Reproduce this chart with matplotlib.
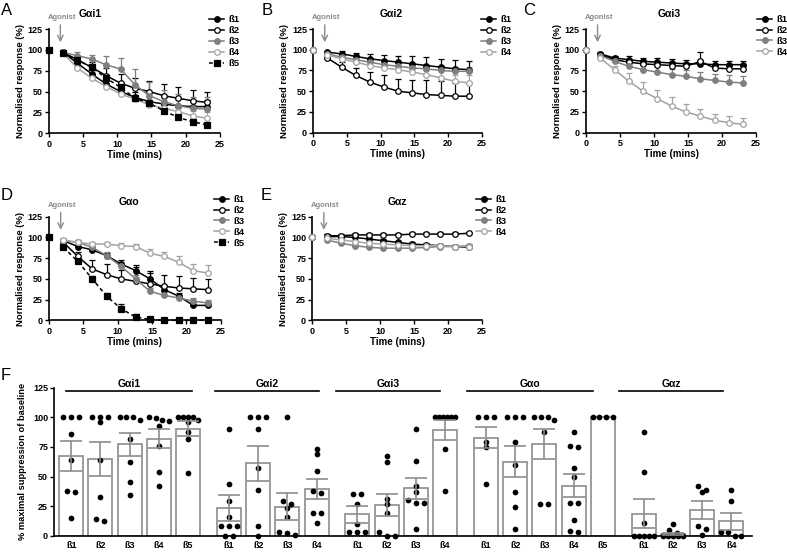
import numpy as np
import matplotlib.pyplot as plt

plt.rcParams['font.family'] = ['Liberation Sans', 'DejaVu Sans']
plt.rcParams['font.weight'] = 'bold'
plt.rcParams['axes.labelweight'] = 'bold'

W, H = 787, 556
GREY = '#7f7f7f'
LIGHT = '#a3a3a3'

# time points (mins)
times = [0, 2.1, 4.2, 6.3, 8.4, 10.5, 12.6, 14.7, 16.8, 18.9, 21.0, 23.1]

# A - Gai1
gai1 = {
    'ß1': [100, 97, 84, 71, 59, 50, 43, 38, 35, 33, 32, 32],
    'ß2': [100, 97, 88, 79, 69, 60, 54, 50, 45, 42, 39, 37],
    'ß3': [100, 97, 93, 89, 82, 77, 58, 45, 38, 33, 30, 29],
    'ß4': [100, 96, 78, 66, 56, 47, 41, 34, 30, 26, 21, 18],
    'ß5': [100, 96, 88, 79, 66, 55, 42, 36, 27, 19, 14, 10],
}
gai1_err = {
    'ß1': [0, 2, 4, 5, 6, 7, 7, 7, 8, 8, 8, 8],
    'ß2': [0, 2, 5, 7, 9, 11, 12, 13, 14, 13, 13, 12],
    'ß3': [0, 2, 4, 5, 11, 13, 19, 16, 14, 14, 14, 14],
    'ß4': [0, 2, 3, 3, 3, 3, 3, 3, 4, 5, 6, 8],
    'ß5': [0, 2, 3, 4, 4, 4, 3, 3, 3, 3, 3, 2],
}

# B - Gai2
gai2 = {
    'ß1': [100, 97, 95, 92, 89, 87, 85, 83, 81, 79, 77, 76],
    'ß2': [100, 90, 79, 69, 61, 55, 50, 48, 46, 45, 44, 44],
    'ß3': [100, 95, 91, 88, 85, 82, 80, 78, 77, 75, 74, 74],
    'ß4': [100, 94, 89, 85, 81, 78, 76, 73, 70, 66, 62, 60],
}
gai2_err = {
    'ß1': [0, 2, 3, 4, 6, 7, 8, 9, 10, 10, 11, 11],
    'ß2': [0, 2, 6, 9, 12, 14, 15, 16, 17, 17, 16, 16],
    'ß3': [0, 2, 3, 3, 4, 4, 4, 5, 5, 5, 5, 5],
    'ß4': [0, 2, 3, 3, 4, 5, 5, 6, 7, 8, 8, 9],
}

# C - Gai3
gai3 = {
    'ß1': [100, 95, 90, 88, 86, 85, 84, 83, 83, 82, 82, 82],
    'ß2': [100, 94, 88, 85, 83, 82, 81, 80, 86, 78, 77, 77],
    'ß3': [100, 93, 86, 80, 76, 73, 70, 68, 65, 63, 61, 60],
    'ß4': [100, 90, 76, 62, 50, 41, 32, 25, 20, 15, 12, 10],
}
gai3_err = {
    'ß1': [0, 2, 3, 4, 4, 5, 5, 5, 5, 5, 5, 5],
    'ß2': [0, 2, 3, 3, 3, 3, 3, 3, 11, 4, 4, 4],
    'ß3': [0, 2, 3, 5, 6, 7, 7, 7, 8, 8, 8, 8],
    'ß4': [0, 2, 4, 10, 11, 11, 11, 9, 8, 8, 8, 8],
}

# D - Gao
gao = {
    'ß1': [100, 96, 89, 85, 78, 68, 60, 50, 37, 29, 18, 18],
    'ß2': [100, 94, 77, 62, 55, 50, 47, 44, 41, 39, 38, 37],
    'ß3': [100, 96, 94, 88, 78, 65, 50, 35, 30, 27, 23, 21],
    'ß4': [100, 97, 94, 92, 92, 90, 89, 81, 77, 70, 60, 57],
    'ß5': [100, 88, 71, 50, 29, 14, 4, 1, 0, 0, 0, 0],
}
gao_err = {
    'ß1': [0, 2, 4, 3, 3, 5, 7, 7, 6, 4, 4, 4],
    'ß2': [0, 2, 5, 11, 13, 11, 17, 15, 14, 14, 13, 13],
    'ß3': [0, 2, 3, 4, 4, 5, 5, 4, 4, 4, 4, 4],
    'ß4': [0, 2, 3, 3, 3, 3, 3, 5, 5, 7, 8, 10],
    'ß5': [0, 2, 3, 3, 4, 6, 3, 1, 1, 1, 1, 1],
}

# E - Gaz
gaz = {
    'ß1': [100, 101, 101, 100, 98, 96, 94, 92, 91, 90, 89, 88],
    'ß2': [100, 102, 102, 103, 103, 103, 103, 104, 104, 104, 104, 105],
    'ß3': [100, 97, 93, 90, 88, 87, 87, 87, 88, 89, 89, 90],
    'ß4': [100, 99, 97, 95, 93, 92, 91, 90, 90, 90, 89, 89],
}
gaz_err = {
    'ß1': [0, 3, 2, 2, 2, 2, 2, 2, 2, 2, 2, 2],
    'ß2': [0, 2, 2, 2, 2, 2, 2, 2, 2, 2, 2, 2],
    'ß3': [0, 2, 2, 2, 2, 2, 2, 2, 2, 2, 2, 2],
    'ß4': [0, 2, 2, 2, 2, 2, 2, 2, 2, 2, 2, 2],
}

# F - maximal suppression
groups = ['Gαi1', 'Gαi2', 'Gαi3', 'Gαo', 'Gαz']
group_bars = [['ß1', 'ß2', 'ß3', 'ß4', 'ß5'], ['ß1', 'ß2', 'ß3', 'ß4'], ['ß1', 'ß2', 'ß3', 'ß4'],
              ['ß1', 'ß2', 'ß3', 'ß4', 'ß5'], ['ß1', 'ß2', 'ß3', 'ß4']]
bar_means = [67.3, 64.8, 77.2, 82.0, 90.4,
             23.6, 61.1, 24.5, 39.4,
             18.0, 25.9, 40.0, 89.3,
             82.8, 62.5, 77.2, 42.2, 100.0,
             18.6, 1.5, 21.7, 12.2]
bar_sems = [12.3, 14.1, 9.5, 8.0, 6.2,
            10.8, 14.8, 11.5, 8.7,
            7.2, 9.6, 8.8, 8.2,
            9.1, 13.1, 12.8, 9.8, 0.0,
            12.2, 1.0, 7.9, 7.0]
bar_dots = [
    [100, 100, 100, 86, 64, 38, 37, 15],
    [100, 100, 96, 100, 64, 33, 12, 14],
    [100, 98, 100, 100, 82, 62, 45, 34],
    [99, 97, 100, 98, 93, 76, 54, 42],
    [100, 100, 100, 100, 98, 96, 88, 82, 53],
    [90, 44, 29, 16, 8, 8, 8, 0, 0],
    [100, 100, 100, 90, 57, 39, 8, 0],
    [100, 29, 27, 23, 16, 3, 1, 2],
    [73, 69, 55, 38, 36, 19, 19, 11],
    [35, 35, 27, 10, 3, 3, 3],
    [67, 62, 31, 27, 19, 3, 0, 0],
    [90, 63, 42, 37, 30, 28, 28, 6],
    [100, 100, 100, 100, 100, 100, 73, 38],
    [100, 100, 100, 79, 75, 44],
    [100, 100, 100, 79, 60, 37, 24, 6],
    [100, 98, 100, 100, 88, 27, 27],
    [88, 76, 75, 57, 50, 28, 28, 13, 3, 4],
    [100, 100, 100, 100],
    [88, 54, 11, 0, 0, 0, 0, 0],
    [10, 5, 2, 0, 0, 0, 0, 0],
    [42, 37, 39, 8, 6, 1],
    [39, 29, 3, 0, 0, 3],
]

STYLE = {
    'ß1': dict(color='black', marker='o', mfc='black', ls='-'),
    'ß2': dict(color='black', marker='o', mfc='white', ls='-'),
    'ß3': dict(color=GREY, marker='o', mfc=GREY, ls='-'),
    'ß4': dict(color=LIGHT, marker='o', mfc='white', ls='-'),
    'ß5': dict(color='black', marker='s', mfc='black', ls=(0, (2.5, 2))),
}


def px_axes(fig, left, top, right, bottom):
    return fig.add_axes([left / W, 1 - bottom / H, (right - left) / W, (bottom - top) / H])


def style_axes(ax):
    for s in ['top', 'right']:
        ax.spines[s].set_visible(False)
    for s in ['left', 'bottom']:
        ax.spines[s].set_linewidth(1.2)
    ax.tick_params(direction='out', length=3, width=1, labelsize=6.5, pad=1.5)
    for lab in ax.get_xticklabels() + ax.get_yticklabels():
        lab.set_fontweight('bold')


def time_panel(ax, means, errs, title, title_x, legend_xy):
    t = np.array(times)
    handles = []
    for lab, vals in means.items():
        st = STYLE[lab]
        v = np.array(vals, dtype=float)
        e = np.array(errs[lab], dtype=float)
        ax.errorbar(t[1:], v[1:], yerr=[np.zeros(len(e) - 1), e[1:]], fmt='none',
                    ecolor=st['color'], elinewidth=0.9, capsize=2.5, capthick=0.9,
                    zorder=2, clip_on=False)
        line, = ax.plot(t[1:], v[1:], color=st['color'], ls=st['ls'], lw=1.1,
                        marker=st['marker'], ms=4, mfc=st['mfc'], mec=st['color'],
                        mew=0.9, zorder=3, clip_on=False, label=lab)
        ax.plot(t[:1], v[:1], ls='none', marker=st['marker'], ms=4, mfc=st['mfc'],
                mec=st['color'], mew=0.9, zorder=3, clip_on=False)
        handles.append(line)
    ax.set_xlim(0, 25)
    ax.set_ylim(0, 125)
    ax.set_xticks(range(0, 26, 5))
    ax.set_yticks(range(0, 126, 25))
    ax.set_xlabel('Time (mins)', fontsize=7, labelpad=1)
    ax.set_ylabel('Normalised response (%)', fontsize=6.8, labelpad=2)
    style_axes(ax)
    ax.text(title_x, 143, title, fontsize=7.5, fontweight='bold', ha='center', va='center')
    ax.annotate('', xy=(1.7, 109), xytext=(1.7, 130),
                arrowprops=dict(arrowstyle='->', color='#8a8a8a', lw=1, shrinkA=0, shrinkB=0),
                annotation_clip=False)
    ax.text(1.9, 138.5, 'Agonist', fontsize=5.5, color='#8a8a8a', ha='center', va='center')
    ax.legend(handles=handles, loc='upper left',
              bbox_to_anchor=(legend_xy[0] / W, 1 - legend_xy[1] / H),
              bbox_transform=ax.figure.transFigure, frameon=False,
              handlelength=1.6, handletextpad=0.5, labelspacing=0.2, borderpad=0,
              borderaxespad=0, prop=dict(weight='bold', size=6.8))


def row_offsets(values, x_scale, tol=4, max_span_px=20, max_step_px=8):
    # dots with (nearly) equal values go side by side, centred on the bar
    vals = np.array(values, dtype=float)
    order = np.argsort(-vals, kind='stable')
    offsets = np.zeros(len(vals))
    rows = []
    for i in order:
        if rows and vals[rows[-1][0]] - vals[i] < tol:
            rows[-1].append(i)
        else:
            rows.append([i])
    for row in rows:
        n = len(row)
        if n == 1:
            continue
        step = min(max_step_px, max_span_px / (n - 1))
        for k, i in enumerate(row):
            offsets[i] = (k - (n - 1) / 2) * step / x_scale
    return offsets


fig = plt.figure(figsize=(W / 100, H / 100), dpi=100)

axA = px_axes(fig, 48.7, 29, 220, 133.3)
time_panel(axA, gai1, gai1_err, 'Gαi1', 6.1, (209, 15.5))
axB = px_axes(fig, 313.3, 29, 481.7, 132.7)
time_panel(axB, gai2, gai2_err, 'Gαi2', 11.5, (481, 15.5))
axC = px_axes(fig, 586, 29, 756, 132.7)
time_panel(axC, gai3, gai3_err, 'Gαi3', 12.2, (757, 15))
axD = px_axes(fig, 49, 216.7, 220.7, 320.3)
time_panel(axD, gao, gao_err, 'Gαo', 11.7, (214, 195))
axE = px_axes(fig, 312.3, 216.7, 481.7, 320.3)
time_panel(axE, gaz, gaz_err, 'Gαz', 12.5, (476, 195))

# panel F
axF = px_axes(fig, 54.3, 387.7, 751.7, 535.7)
xpos = []
labels = []
pos = 0.0
for g, bars in zip(groups, group_bars):
    for b in bars:
        xpos.append(pos)
        labels.append(b)
        pos += 1
    pos += 0.4
xpos = np.array(xpos)
axF.set_xlim(-0.58, 23.3)
axF.set_ylim(0, 125)
x_scale = (751.7 - 54.3) / (23.3 + 0.58)

axF.bar(xpos, bar_means, width=0.82, color='white', edgecolor='#8c8c8c', linewidth=1.2, zorder=1)
for x, dots in zip(xpos, bar_dots):
    offs = row_offsets(dots, x_scale)
    axF.scatter(x + offs, dots, s=17, color='black', zorder=3, clip_on=False, linewidths=0)
for x, m, s in zip(xpos, bar_means, bar_sems):
    if s > 0:
        axF.errorbar(x, m, yerr=s, fmt='none', ecolor='#8c8c8c', elinewidth=1.2,
                     capsize=8, capthick=1.2, zorder=4)

group_spans = [(-0.19, 4.14), (4.92, 8.49), (9.06, 12.63), (13.56, 17.86), (18.77, 22.31)]
for g, (a, b) in zip(groups, group_spans):
    axF.plot([a, b], [122.5, 122.5], color='black', lw=1.2, clip_on=False)
    axF.text((a + b) / 2, 128.5, g, fontsize=7.5, fontweight='bold', ha='center', va='center')

axF.set_xticks(xpos)
axF.set_xticklabels(labels)
axF.set_yticks(range(0, 126, 25))
axF.set_ylabel('% maximal suppression of baseline', fontsize=6.7, labelpad=4)
style_axes(axF)
axF.tick_params(axis='x', length=0, pad=4)

# panel letters
for letter, (x, y) in zip('ABCDEF', [(1, 3), (262, 3), (523, 3), (1, 188), (261, 188), (1, 368)]):
    fig.text(x / W, 1 - y / H, letter, fontsize=12, fontweight='normal', ha='left', va='top')

fig.savefig('out.png', dpi=100)
